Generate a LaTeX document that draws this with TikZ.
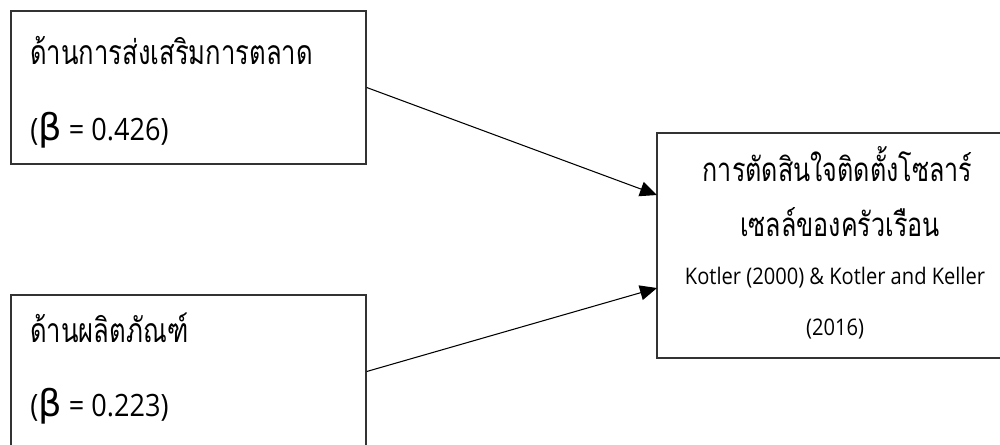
\documentclass[tikz,border=0pt]{standalone}
\usepackage{fontspec}
\setmainfont[Script=Thai]{Loma}
\newfontfamily\thaifont[Script=Thai, FakeStretch=0.76]{Loma}
\newfontfamily\latfont[FakeStretch=0.88]{Open Sans}
\newfontfamily\grkfont{DejaVu Sans}
\usetikzlibrary{arrows.meta}
\tikzset{
    every node/.style={inner sep=0mm},
    box/.style={rectangle, draw=black!80, line width=0.8pt, minimum width=7.1cm, minimum height=3.06cm},
    txt/.style={anchor=base west, font=\thaifont\fontsize{19.2}{22}\selectfont},
    num/.style={anchor=base west, font=\latfont\fontsize{17.5}{20}\selectfont},
    ctxt/.style={anchor=base, font=\thaifont\fontsize{18.8}{22}\selectfont},
    small/.style={anchor=base, font=\latfont\fontsize{13}{15}\selectfont}
}
\tikzset{link/.style={line width=0.6pt, -{Triangle[length=3.4mm, width=3mm]}}}
\newcommand{\bt}{{\grkfont\fontsize{21}{21}\selectfont β}}

\begin{document}
\begin{tikzpicture}
    \useasboundingbox (0,0) rectangle (20,8.88);

    \node (b1) at (3.77cm, 7.13cm) [box] {};
    \node (b2) at (3.77cm, 1.45cm) [box] {};
    \node (b3) at (16.70cm, 3.97cm) [box, minimum width=7.12cm, minimum height=4.5cm] {};

    \node (t1a) at (0.60cm, 7.60cm) [txt] {ด้านการส่งเสริมการตลาด};
    \node (t1b) at (0.60cm, 6.08cm) [num] {(\bt{} = 0.426)};
    \node (t2a) at (0.60cm, 2.04cm) [txt] {ด้านผลิตภัณฑ์};
    \node (t2b) at (0.60cm, 0.56cm) [num] {(\bt{} = 0.223)};

    \node (t3a) at (16.75cm, 5.26cm) [ctxt] {การตัดสินใจติดตั้งโซลาร์};
    \node (t3b) at (16.80cm, 4.16cm) [ctxt] {เซลล์ของครัวเรือน};
    \node (t3c) at (16.70cm, 3.20cm) [small] {Kotler (2000) \& Kotler and Keller};
    \node (t3d) at (16.70cm, 2.18cm) [small] {(2016)};

    \coordinate (in1) at (13.14cm, 4.98cm);
    \coordinate (in2) at (13.14cm, 3.12cm);

    \draw (b1.east) edge [link] (in1);
    \draw (b2.east) edge [link] (in2);
\end{tikzpicture}
\end{document}
